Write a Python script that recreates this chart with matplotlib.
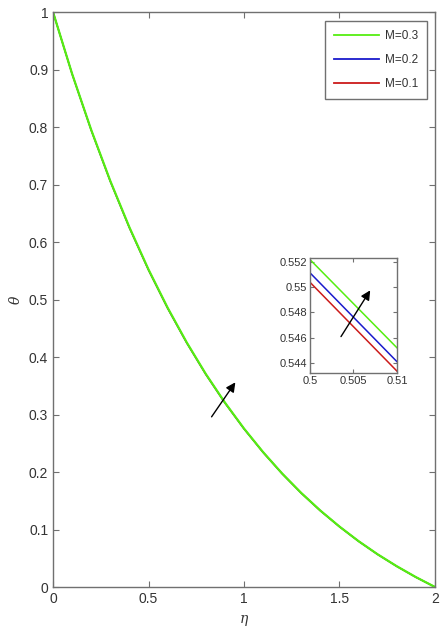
import matplotlib
matplotlib.use('Agg')
import matplotlib.pyplot as plt

plt.rcParams['font.family'] = ['Liberation Sans', 'DejaVu Sans']
plt.rcParams['mathtext.fontset'] = 'dejavuserif'

# temperature profiles theta(eta) for three M values
eta = [0.0, 0.1, 0.2, 0.3, 0.4, 0.5, 0.6, 0.7, 0.8, 0.9, 1.0,
       1.1, 1.2, 1.3, 1.4, 1.5, 1.6, 1.7, 1.8, 1.9, 2.0]
theta_m03 = [1.0, 0.8925, 0.7950, 0.7062, 0.6256, 0.5522, 0.4858, 0.4254, 0.3705, 0.3208, 0.2756,
             0.2346, 0.1973, 0.1635, 0.1329, 0.1051, 0.0797, 0.0568, 0.0361, 0.0172, 0.0]
theta_m02 = [1.0, 0.8923, 0.7946, 0.7057, 0.6250, 0.5516, 0.4852, 0.4249, 0.3701, 0.3204, 0.2753,
             0.2343, 0.1971, 0.1633, 0.1327, 0.1050, 0.0796, 0.0567, 0.0360, 0.0171, 0.0]
theta_m01 = [1.0, 0.8921, 0.7943, 0.7053, 0.6246, 0.5511, 0.4847, 0.4245, 0.3697, 0.3201, 0.2750,
             0.2341, 0.1969, 0.1631, 0.1325, 0.1048, 0.0795, 0.0566, 0.0359, 0.0170, 0.0]

# zoomed values near eta = 0.5
eta_zoom = [0.5, 0.51]
zoom_m03 = [0.5522, 0.5452]
zoom_m02 = [0.55115, 0.5441]
zoom_m01 = [0.5504, 0.54335]

green = '#55ee11'
blue = '#1a1acc'
red = '#cc1a1a'
axcol = '#707070'
txtcol = '#333333'

fig = plt.figure(figsize=(4.44, 6.40), dpi=100)
ax = fig.add_axes([0.1194, 0.0828, 0.8603, 0.8984])

ax.plot(eta, theta_m01, color=red, lw=1.0, label='M=0.1')
ax.plot(eta, theta_m02, color=blue, lw=1.0, label='M=0.2')
ax.plot(eta, theta_m03, color=green, lw=1.6, label='M=0.3')

ax.set_xlim(0, 2)
ax.set_ylim(0, 1)
ax.set_xticks([0, 0.5, 1, 1.5, 2])
ax.set_xticklabels(['0', '0.5', '1', '1.5', '2'])
ax.set_yticks([i / 10 for i in range(11)])
ax.set_yticklabels(['0', '0.1', '0.2', '0.3', '0.4', '0.5', '0.6', '0.7', '0.8', '0.9', '1'])
ax.tick_params(direction='in', top=True, right=True, length=4, width=0.8,
               colors=axcol, labelcolor=txtcol, labelsize=10)
for s in ax.spines.values():
    s.set_color(axcol)
    s.set_linewidth(1.0)
ax.set_xlabel(r'$\eta$', fontsize=10, color=txtcol, labelpad=5)
ax.set_ylabel(r'$\theta$', fontsize=10, color=txtcol, labelpad=4)

handles, labels = ax.get_legend_handles_labels()
leg = ax.legend(handles[::-1], labels[::-1], loc='upper right', bbox_to_anchor=(0.995, 0.995),
                fontsize=8.5, handlelength=3.8, labelspacing=1.05, borderpad=0.75,
                fancybox=False, framealpha=1, edgecolor=axcol, handletextpad=0.5)
leg.get_frame().set_linewidth(1.0)
for t in leg.get_texts():
    t.set_color(txtcol)
for h in leg.legend_handles:
    h.set_linewidth(1.3)

ax.annotate('', xy=(0.963, 0.360), xytext=(0.822, 0.292),
            arrowprops=dict(arrowstyle='-|>', color='k', lw=1.0, mutation_scale=14))

# inset
ins = fig.add_axes([0.698, 0.4172, 0.196, 0.1797])
ins.plot(eta_zoom, zoom_m01, color=red, lw=1.1)
ins.plot(eta_zoom, zoom_m02, color=blue, lw=1.1)
ins.plot(eta_zoom, zoom_m03, color=green, lw=1.1)
ins.set_xlim(0.5, 0.51)
ins.set_ylim(0.5432, 0.55232)
ins.set_xticks([0.5, 0.505, 0.51])
ins.set_xticklabels(['0.5', '0.505', '0.51'])
ins.set_yticks([0.544, 0.546, 0.548, 0.55, 0.552])
ins.set_yticklabels(['0.544', '0.546', '0.548', '0.55', '0.552'])
ins.tick_params(direction='in', top=True, right=True, length=3, width=0.8,
                colors=axcol, labelcolor=txtcol, labelsize=8, pad=2)
for s in ins.spines.values():
    s.set_color(axcol)
    s.set_linewidth(1.0)
ins.annotate('', xy=(0.5071, 0.54994), xytext=(0.5034, 0.5459),
             arrowprops=dict(arrowstyle='-|>', color='k', lw=1.0, mutation_scale=14))

fig.savefig('out.png', dpi=100)
